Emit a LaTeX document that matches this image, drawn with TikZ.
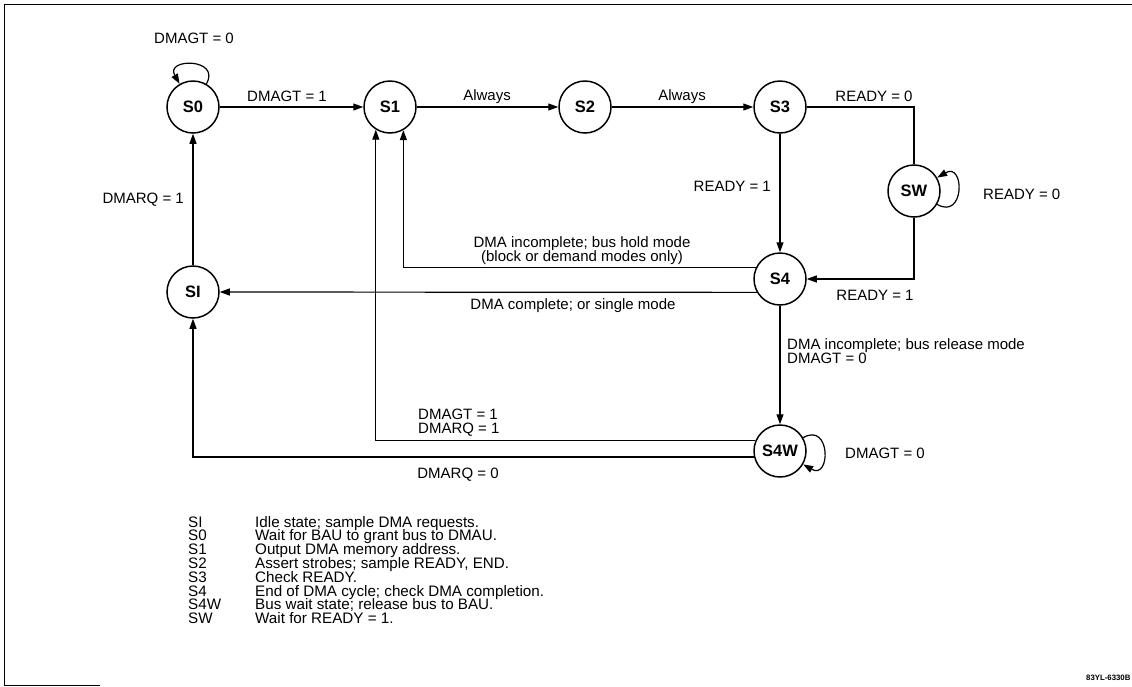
\documentclass[tikz,border=0pt]{standalone}
\usepackage{fontspec}
\setmainfont{Liberation Sans}
\usetikzlibrary{arrows.meta}
\begin{document}
\begin{tikzpicture}[x=1pt,y=-1pt,
  state/.style={circle,draw,line width=1.5pt,minimum size=52pt,inner sep=0pt,font=\fontsize{16.5}{16.5}\selectfont\bfseries},
  plain/.style={line width=1.2pt},
  conn/.style={line width=1.2pt,-{Triangle[length=10pt,width=7pt]}},
  lbl/.style={inner sep=0pt,font=\fontsize{15}{14}\selectfont},
  leg/.style={inner sep=0pt,anchor=base west,font=\fontsize{15.2}{14}\selectfont}]
\useasboundingbox (0,0) rectangle (1132,686);
\fill[white] (0,0) rectangle (1132,686);
\draw[line width=1pt] (1132,4) -- (4,4) -- (4,685) -- (100,685);

% states
\node[state] (s0) at (193,107) {S0};
\node[state] (s1) at (390,107) {S1};
\node[state] (s2) at (585,107) {S2};
\node[state] (s3) at (780,107) {S3};
\node[state] (sw) at (914,191) {SW};
\node[state] (s4) at (780,279) {S4};
\node[state] (si) at (193,292) {SI};
\node[state] (s4w) at (780,451) {S4W};

% connectors
\coordinate (c1) at (914,107);
\draw[conn] (s0) -- (s1);
\draw[conn] (s1) -- (s2);
\draw[conn] (s2) -- (s3);
\draw[plain] (s3.east) -- (c1) -- (sw.north);
\draw[conn] (s3) -- (s4);
\draw[conn] (sw.south) |- (s4.east);
\draw[conn] (s4.155) -| (s1.-60);
\draw[conn] (s4.210) -- (si.east);
\draw[conn] (si) -- (s0);
\draw[conn] (s4) -- (s4w);
\draw[conn] (s4w.157) -| (s1.-122);
\draw[conn] (s4w.193) -| (si.south);
\draw[conn] (s0.60) .. controls +(60:30pt) and +(120:30pt) .. (s0.120);
\draw[conn] (sw.-30) .. controls +(-30:32pt) and +(30:32pt) .. (sw.30);
\draw[conn] (s4w.30) .. controls +(30:32pt) and +(-30:32pt) .. (s4w.-30);

% labels
\node[lbl] (l1) at (194,38) {DMAGT = 0};
\node[lbl] (l2) at (287,96) {DMAGT = 1};
\node[lbl] (l3) at (487,97) {Always};
\node[lbl] (l4) at (682,97) {Always};
\node[lbl] (l5) at (874,96) {READY = 0};
\node[lbl,anchor=east] (l6) at (771,186) {READY = 1};
\node[lbl,anchor=west] (l7) at (983,194) {READY = 0};
\node[lbl] (l8) at (875,295) {READY = 1};
\node[lbl,anchor=east] (l9) at (184,200) {DMARQ = 1};
\node[lbl,align=center] (l10) at (582,251) {DMA incomplete; bus hold mode\\(block or demand modes only)};
\node[lbl] (l11) at (573,306) {DMA complete; or single mode};
\node[lbl,anchor=west,align=left] (l12) at (787,351) {DMA incomplete; bus release mode\\DMAGT = 0};
\node[lbl,anchor=west] (l13) at (845,453) {DMAGT = 0};
\node[lbl,anchor=west,align=left] (l14) at (418,423) {DMAGT = 1\\DMARQ = 1};
\node[lbl] (l15) at (458,475) {DMARQ = 0};

% legend
\foreach \k/\a/\b [count=\i from 0] in {si/SI/Idle state; sample DMA requests.,
  s0/S0/Wait for BAU to grant bus to DMAU.,
  s1/S1/Output DMA memory address.,
  s2/S2/{Assert strobes; sample READY, END.},
  s3/S3/Check READY.,
  s4/S4/End of DMA cycle; check DMA completion.,
  s4w/S4W/Bus wait state; release bus to BAU.,
  sw/SW/Wait for READY = 1.}{
  \node[leg] (k\k) at (188,527+13.8*\i) {\a};
  \node[leg] (d\k) at (255,527+13.8*\i) {\b};
}

\node[inner sep=0pt,anchor=base west,font=\fontsize{7.8}{8}\selectfont\bfseries] (tag) at (1086,680) {83YL-6330B};
\end{tikzpicture}
\end{document}
